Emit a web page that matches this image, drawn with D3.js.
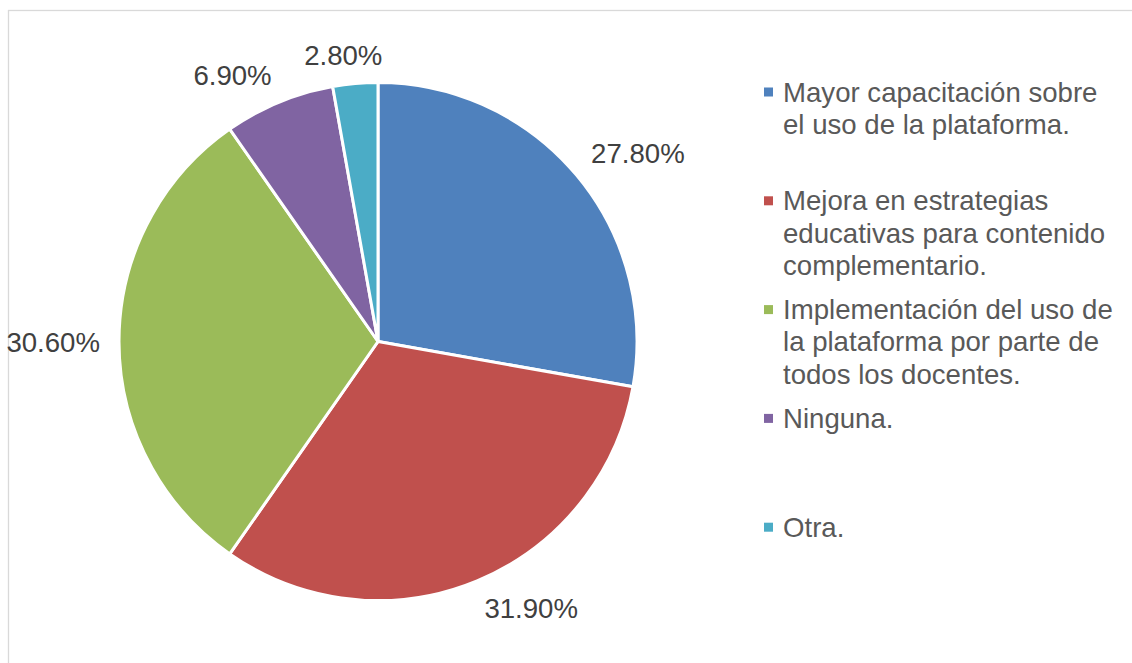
<!DOCTYPE html>
<html>
<head>
<meta charset="utf-8">
<script src="https://cdn.jsdelivr.net/npm/d3@7"></script>
<style>
  html, body { margin: 0; padding: 0; background: #ffffff; }
  svg { display: block; font-family: "Liberation Sans", Arial, sans-serif; }
</style>
</head>
<body>
<svg id="chart" width="1132" height="663"></svg>
<script>
// ---- data ----
const categories = [
  "Mayor capacitación sobre el uso de la plataforma.",
  "Mejora en estrategias educativas para contenido complementario.",
  "Implementación del uso de la plataforma por parte de todos los docentes.",
  "Ninguna.",
  "Otra."
];
const legendLines = [
  ["Mayor capacitación sobre", "el uso de la plataforma."],
  ["Mejora en estrategias", "educativas para contenido", "complementario."],
  ["Implementación del uso de", "la plataforma por parte de", "todos los docentes."],
  ["Ninguna."],
  ["Otra."]
];
const values = [27.8, 31.9, 30.6, 6.9, 2.8];
const valueLabels = ["27.80%", "31.90%", "30.60%", "6.90%", "2.80%"];
const colors = ["#4F81BD", "#C0504D", "#9BBB59", "#8064A2", "#4BACC6"];

// ---- layout ----
const svg = d3.select("#chart");
const W = 1132, H = 663;
const cx = 378, cy = 341.5, r = 259;
const fontSize = 27.6;

// chart area border
svg.append("rect")
  .attr("x", 8.5).attr("y", 10.5)
  .attr("width", 1130).attr("height", 670)
  .attr("fill", "#ffffff")
  .attr("stroke", "#d9d9d9")
  .attr("stroke-width", 1.3);

const pie = d3.pie().sort(null).value(d => d);
const arcs = pie(values);
const arc = d3.arc().innerRadius(0).outerRadius(r);

const g = svg.append("g").attr("transform", `translate(${cx},${cy})`);

g.selectAll("path.slice")
  .data(arcs)
  .join("path")
  .attr("class", "slice")
  .attr("d", arc)
  .attr("fill", (d, i) => colors[i])
  .attr("stroke", "#ffffff")
  .attr("stroke-width", 3)
  .attr("stroke-linejoin", "miter");

// data labels (outside end)
const R = r + 19;
const capH = 20;
const clamp = v => Math.max(-1, Math.min(1, v));
const labels = g.selectAll("text.dlabel")
  .data(arcs)
  .join("text")
  .attr("class", "dlabel")
  .attr("font-size", fontSize)
  .attr("fill", "#404040")
  .attr("text-anchor", "middle")
  .text((d, i) => valueLabels[i]);

labels.each(function(d) {
  const t = d3.select(this);
  const w = this.getComputedTextLength();
  const a = (d.startAngle + d.endAngle) / 2;
  const s = Math.sin(a), c = Math.cos(a);
  const px = R * s, py = -R * c;
  const ccx = px + clamp(s * 3) * w / 2;
  const ccy = py - clamp(c * 3) * capH / 2;
  t.attr("x", ccx).attr("y", ccy + capH / 2);
});

// legend
const legX = 764, legTextX = 783, legY0 = 101.5, legStep = 108.8, lineH = 32.3;
const leg = svg.append("g");
legendLines.forEach((lines, i) => {
  const by = legY0 + i * legStep;
  leg.append("rect")
    .attr("x", legX).attr("y", by - 14)
    .attr("width", 9).attr("height", 9)
    .attr("fill", colors[i]);
  const t = leg.append("text")
    .attr("x", legTextX).attr("y", by)
    .attr("font-size", fontSize)
    .attr("fill", "#595959");
  lines.forEach((ln, j) => {
    t.append("tspan").attr("x", legTextX).attr("y", by + j * lineH).text(ln);
  });
});
</script>
</body>
</html>
